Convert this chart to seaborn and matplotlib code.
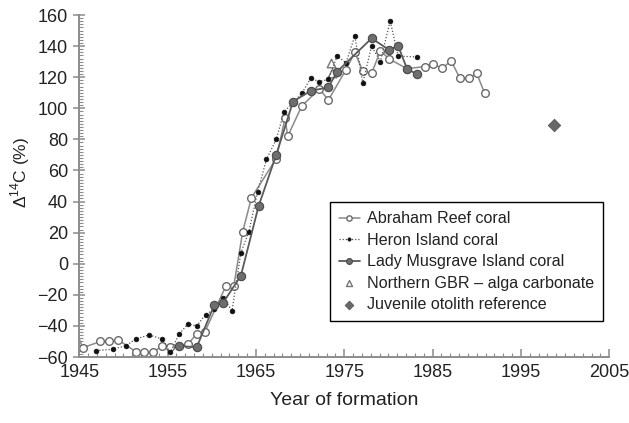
import matplotlib
matplotlib.use("Agg")
import matplotlib.pyplot as plt
import numpy as np
import pandas as pd
import seaborn as sns
from matplotlib.ticker import MultipleLocator

# ---------------------------------------------------------------------------
# data (year of formation, delta 14C)
# ---------------------------------------------------------------------------

abraham_year = [1944.4, 1945.4, 1947.4, 1948.4, 1949.4, 1951.4, 1952.3, 1953.4,
                1954.4, 1955.3, 1957.3, 1958.3, 1959.2, 1961.6, 1962.5, 1963.5,
                1964.5, 1967.3, 1968.3, 1968.6, 1970.2, 1972.2, 1973.2, 1975.2,
                1976.2, 1977.1, 1978.1, 1979.1, 1980.1, 1982.1, 1984.1, 1985.1,
                1986.1, 1987.1, 1988.1, 1989.1, 1990.0, 1990.9]
abraham_d14c = [-40, -54, -50, -50, -49, -56.5, -57, -57,
                -52.7, -53.7, -51.8, -45, -44, -14.3, -14.3, 20.5,
                42.5, 67.6, 93.6, 82, 101.5, 112.5, 105.3, 124.8,
                136, 124, 122.5, 137, 131.7, 125.5, 126.8, 128.3,
                125.7, 130.6, 119.3, 119.3, 122.5, 109.6]

heron_year = [1946.9, 1948.8, 1950.3, 1951.4, 1952.9, 1954.4, 1955.3, 1956.3,
              1957.3, 1958.3, 1959.3, 1960.3, 1961.3, 1962.3, 1963.3, 1964.2,
              1965.2, 1966.2, 1967.3, 1968.2, 1970.2, 1971.2, 1972.2, 1973.2,
              1974.2, 1975.2, 1976.2, 1977.1, 1978.1, 1979.1, 1980.2, 1981.1,
              1983.2]
heron_d14c = [-55.9, -55, -52.7, -48.4, -45.8, -48.4, -57, -45.3,
              -38.7, -40, -32.7, -29.3, -22, -30.2, 7.1, 20.5,
              46.4, 67.2, 80, 97.8, 109.6, 119.3, 117.1, 118.6,
              133.6, 129.3, 146.5, 116, 140, 130, 156.3, 133.6,
              133]

musgrave_year = [1956.3, 1958.3, 1960.3, 1961.3, 1963.3, 1965.3, 1967.3, 1969.2,
                 1971.2, 1973.2, 1974.2, 1978.1, 1980.1, 1981.1, 1982.1, 1983.2]
musgrave_d14c = [-52.9, -53.7, -26.3, -25, -7.7, 37, 70, 104.3,
                 111.2, 113.5, 123.6, 145, 137.5, 140.3, 125.5, 122]

alga_year = [1973.5, 1973.6]
alga_d14c = [129.3, 122.5]

otolith_year = [1998.7]
otolith_d14c = [89]

x_ticks = [1945, 1955, 1965, 1975, 1985, 1995, 2005]
y_ticks = [-60, -40, -20, 0, 20, 40, 60, 80, 100, 120, 140, 160]

# ---------------------------------------------------------------------------
# figure
# ---------------------------------------------------------------------------

sns.set_theme(style="ticks")
plt.rcParams["font.family"] = ["Liberation Sans", "DejaVu Sans"]
plt.rcParams["mathtext.fontset"] = "custom"
plt.rcParams["mathtext.rm"] = "Liberation Sans"

TEXT = "#222222"
SPINE = "#8c8c8c"

fig = plt.figure(figsize=(6.29, 4.23), dpi=100)
ax = fig.add_axes([0.126, 0.156, 0.8425, 0.8085])

sns.lineplot(x=abraham_year, y=abraham_d14c, ax=ax, estimator=None, sort=False,
             color="#8a8a8a", linewidth=1.1, marker="o", markersize=5.5,
             markerfacecolor="white", markeredgecolor="#6a6a6a",
             markeredgewidth=1.0, label="Abraham Reef coral")
sns.lineplot(x=heron_year, y=heron_d14c, ax=ax, estimator=None, sort=False,
             color="#555555", linewidth=0.9, linestyle=(0, (1, 1.5)),
             marker="o", markersize=3.4, markerfacecolor="#111111",
             markeredgecolor="#111111", markeredgewidth=0.5,
             label="Heron Island coral")
sns.lineplot(x=musgrave_year, y=musgrave_d14c, ax=ax, estimator=None, sort=False,
             color="#5a5a5a", linewidth=1.3, marker="o", markersize=6.0,
             markerfacecolor="#6e6e6e", markeredgecolor="#4a4a4a",
             markeredgewidth=0.8, label="Lady Musgrave Island coral")
sns.scatterplot(x=alga_year, y=alga_d14c, ax=ax, marker="^", s=38,
                facecolor="white", edgecolor="#777777", linewidth=1.0,
                label="Northern GBR \u2013 alga carbonate")
sns.scatterplot(x=otolith_year, y=otolith_d14c, ax=ax, marker="D", s=40,
                color="#686868", edgecolor="#555555", linewidth=0.6,
                label="Juvenile otolith reference")

ax.set_xlim(1945, 2005)
ax.set_ylim(-60, 160)
ax.set_xticks(x_ticks)
ax.set_yticks(y_ticks)
ax.set_yticklabels([str(v).replace("-", "\u2212") for v in y_ticks])
ax.xaxis.set_minor_locator(MultipleLocator(1))
ax.yaxis.set_minor_locator(MultipleLocator(2))

sns.despine(ax=ax)
for side in ("left", "bottom"):
    ax.spines[side].set_color(SPINE)
    ax.spines[side].set_linewidth(1.4)

ax.tick_params(axis="x", which="major", direction="in", length=6, width=1.1,
               color=SPINE, labelsize=13, labelcolor=TEXT, pad=5)
ax.tick_params(axis="x", which="minor", direction="in", length=3, width=0.8,
               color=SPINE)
ax.tick_params(axis="y", which="major", direction="inout", length=8, width=1.1,
               color=SPINE, labelsize=13, labelcolor=TEXT, pad=4)
ax.tick_params(axis="y", which="minor", direction="in", length=3, width=0.8,
               color=SPINE)

ax.set_xlabel("Year of formation", fontsize=14, color=TEXT, labelpad=8)
ax.set_ylabel("\u0394$^{14}$C (%)", fontsize=12.5, color=TEXT)
ax.yaxis.set_label_coords(-0.09, 0.54)

leg = ax.legend(loc="upper left", bbox_to_anchor=(0.473, 0.452), fontsize=11.6,
                frameon=True, fancybox=False, framealpha=1, edgecolor="black",
                handlelength=1.3, handletextpad=0.45, labelspacing=0.4,
                borderpad=0.55, borderaxespad=0, markerscale=0.7)
leg.get_frame().set_linewidth(1.0)
for t in leg.get_texts():
    t.set_color(TEXT)

fig.savefig("out.png", dpi=100)
